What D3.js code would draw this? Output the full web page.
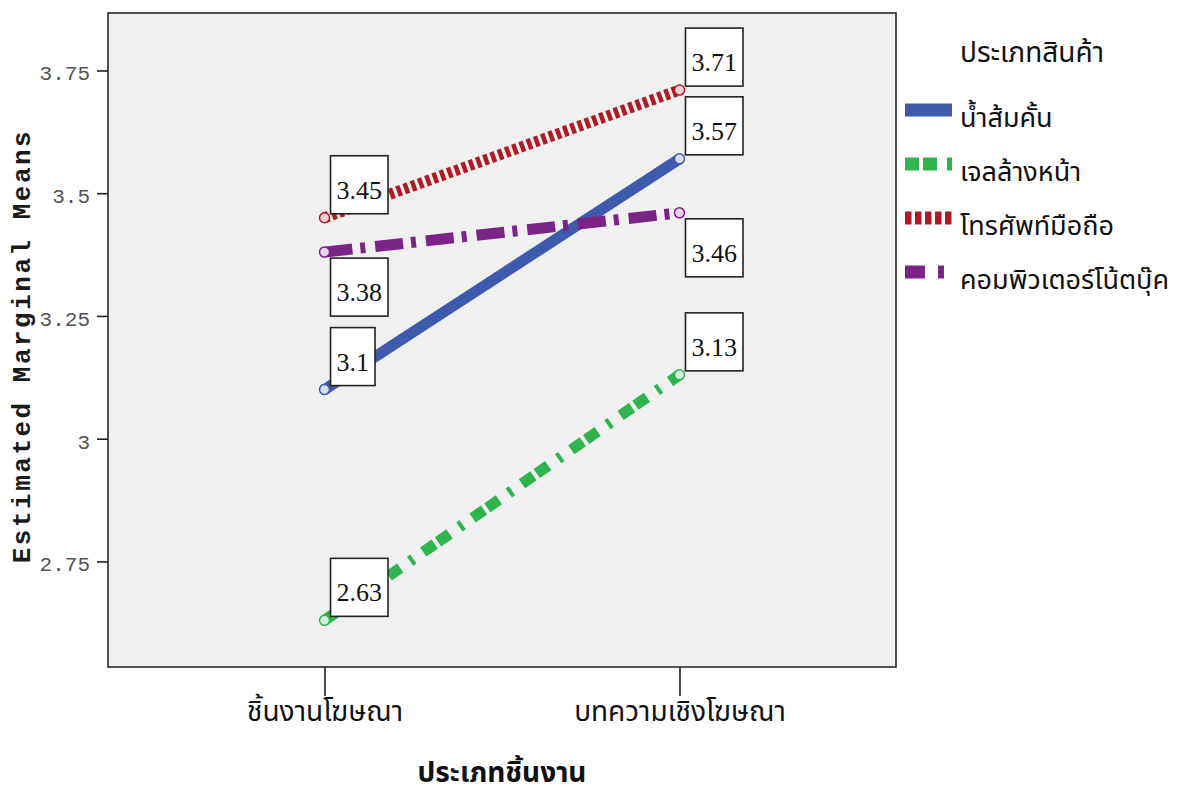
<!DOCTYPE html>
<html>
<head>
<meta charset="utf-8">
<script src="https://cdn.jsdelivr.net/npm/d3@7"></script>
<style>
  html, body { margin: 0; padding: 0; background: #ffffff; }
  svg { display: block; }
</style>
</head>
<body>
<svg id="chart" width="1184" height="798"></svg>
<script>
// Estimated marginal means by ad format (x) and product type (series)
const categories = ["ชิ้นงานโฆษณา", "บทความเชิงโฆษณา"];
const seriesNames = ["น้ำส้มคั้น", "เจลล้างหน้า", "โทรศัพท์มือถือ", "คอมพิวเตอร์โน้ตบุ๊ค"];
const orangeJuiceMeans = [3.10, 3.57];
const faceGelMeans = [2.63, 3.13];
const mobilePhoneMeans = [3.45, 3.71];
const notebookMeans = [3.38, 3.46];
const yTickValues = [2.75, 3, 3.25, 3.5, 3.75];
const yTickLabels = ["2.75", "3", "3.25", "3.5", "3.75"];
const xAxisTitle = "ประเภทชิ้นงาน";
const yAxisTitle = "Estimated Marginal Means";
const legendTitle = "ประเภทสินค้า";

// Visual styling per series
const seriesColors = ["#3d5aac", "#2fb44e", "#b01a22", "#7b2487"];
const seriesDash = [null, "14,4,14,12,4,12", "4.5,3.2", "28,8,5,10"];
const legendDash = [null, "14,4,14,10,5,30", "6.5,3.5", "20,13,6,30"];
const labelBelow = [false, false, false, true];

const seriesValues = [orangeJuiceMeans, faceGelMeans, mobilePhoneMeans, notebookMeans];

const thaiFont = "'Noto Sans Thai','Noto Sans','DejaVu Sans',sans-serif";
const monoFont = "'Courier New','Liberation Mono','DejaVu Sans Mono',monospace";
const serifFont = "'Times New Roman','Liberation Serif','DejaVu Serif',serif";

const svg = d3.select("#chart");
const plot = { left: 108, right: 896, top: 13, bottom: 667 };

const x = d3.scalePoint()
  .domain(categories)
  .range([plot.left, plot.right])
  .padding(0.61);

const y = d3.scaleLinear()
  .domain([2.535, 3.867])
  .range([plot.bottom, plot.top]);

// Plot background
svg.append("rect")
  .attr("x", plot.left).attr("y", plot.top)
  .attr("width", plot.right - plot.left)
  .attr("height", plot.bottom - plot.top)
  .attr("fill", "#f0f0f0");

// Y axis
const yAxis = d3.axisLeft(y)
  .tickValues(yTickValues)
  .tickFormat((d, i) => yTickLabels[i])
  .tickSize(11)
  .tickPadding(7);
const yg = svg.append("g")
  .attr("transform", `translate(${plot.left},0)`)
  .call(yAxis);
yg.select(".domain").remove();
yg.selectAll(".tick line").attr("stroke", "#222").attr("stroke-width", 1.6);
yg.selectAll(".tick text")
  .attr("fill", "#555")
  .attr("font-family", monoFont)
  .attr("font-size", 21)
  .attr("dy", "0.45em");

// X axis
const xAxis = d3.axisBottom(x).tickSize(29).tickPadding(5);
const xg = svg.append("g")
  .attr("transform", `translate(0,${plot.bottom})`)
  .call(xAxis);
xg.select(".domain").remove();
xg.selectAll(".tick line").attr("stroke", "#222").attr("stroke-width", 1.6);
xg.selectAll(".tick text")
  .attr("fill", "#111")
  .attr("font-family", thaiFont)
  .attr("font-size", 28)
  .attr("dy", "0.7em");

// Plot frame
svg.append("rect")
  .attr("x", plot.left).attr("y", plot.top)
  .attr("width", plot.right - plot.left)
  .attr("height", plot.bottom - plot.top)
  .attr("fill", "none")
  .attr("stroke", "#2a2a2a")
  .attr("stroke-width", 1.6);

// Axis titles
svg.append("text")
  .attr("transform", `translate(30,346) rotate(-90)`)
  .attr("text-anchor", "middle")
  .attr("font-family", monoFont)
  .attr("font-weight", "bold")
  .attr("font-size", 26)
  .attr("letter-spacing", 2.5)
  .attr("fill", "#1a1a1a")
  .text(yAxisTitle);

svg.append("text")
  .attr("x", (plot.left + plot.right) / 2)
  .attr("y", 782)
  .attr("text-anchor", "middle")
  .attr("font-family", thaiFont)
  .attr("font-weight", "bold")
  .attr("font-size", 28)
  .attr("fill", "#111")
  .text(xAxisTitle);

// Series lines
const line = d3.line()
  .x((d, i) => x(categories[i]))
  .y(d => y(d));

const seriesG = svg.append("g");
seriesValues.forEach((vals, s) => {
  seriesG.append("path")
    .datum(vals)
    .attr("d", line)
    .attr("fill", "none")
    .attr("stroke", seriesColors[s])
    .attr("stroke-width", 11)
    .attr("stroke-dasharray", seriesDash[s])
    .attr("stroke-linecap", "butt");
});

// Point markers
seriesValues.forEach((vals, s) => {
  seriesG.selectAll(null)
    .data(vals)
    .join("circle")
    .attr("cx", (d, i) => x(categories[i]))
    .attr("cy", d => y(d))
    .attr("r", 5)
    .attr("fill", d3.interpolateRgb(seriesColors[s], "#ffffff")(0.8))
    .attr("stroke", seriesColors[s])
    .attr("stroke-width", 1.5);
});

// Value labels in boxes
const labelG = svg.append("g");
seriesValues.forEach((vals, s) => {
  vals.forEach((v, i) => {
    const px = x(categories[i]);
    const py = y(v);
    const g = labelG.append("g");
    const t = g.append("text")
      .attr("font-family", serifFont)
      .attr("font-size", 26)
      .attr("fill", "#111")
      .attr("text-anchor", "middle")
      .text(String(v));
    const w = t.node().getComputedTextLength() + 12;
    const h = 58;
    const bx = px + 6;
    const by = labelBelow[s] ? py + 6 : py - 4 - h;
    g.insert("rect", "text")
      .attr("x", bx).attr("y", by)
      .attr("width", w).attr("height", h)
      .attr("fill", "#ffffff")
      .attr("stroke", "#222")
      .attr("stroke-width", 1.6);
    t.attr("x", bx + w / 2).attr("y", by + 43);
  });
});

// Legend
const legend = svg.append("g");
legend.append("text")
  .attr("x", 960).attr("y", 62)
  .attr("font-family", thaiFont)
  .attr("font-size", 28)
  .attr("fill", "#111")
  .text(legendTitle);

seriesNames.forEach((name, s) => {
  const cy = 110 + s * 54;
  legend.append("line")
    .attr("x1", 905).attr("x2", 952)
    .attr("y1", cy).attr("y2", cy)
    .attr("stroke", seriesColors[s])
    .attr("stroke-width", 13)
    .attr("stroke-dasharray", legendDash[s]);
  legend.append("text")
    .attr("x", 960).attr("y", cy + 17)
    .attr("font-family", thaiFont)
    .attr("font-size", 27)
    .attr("fill", "#111")
    .text(name);
});
</script>
</body>
</html>
